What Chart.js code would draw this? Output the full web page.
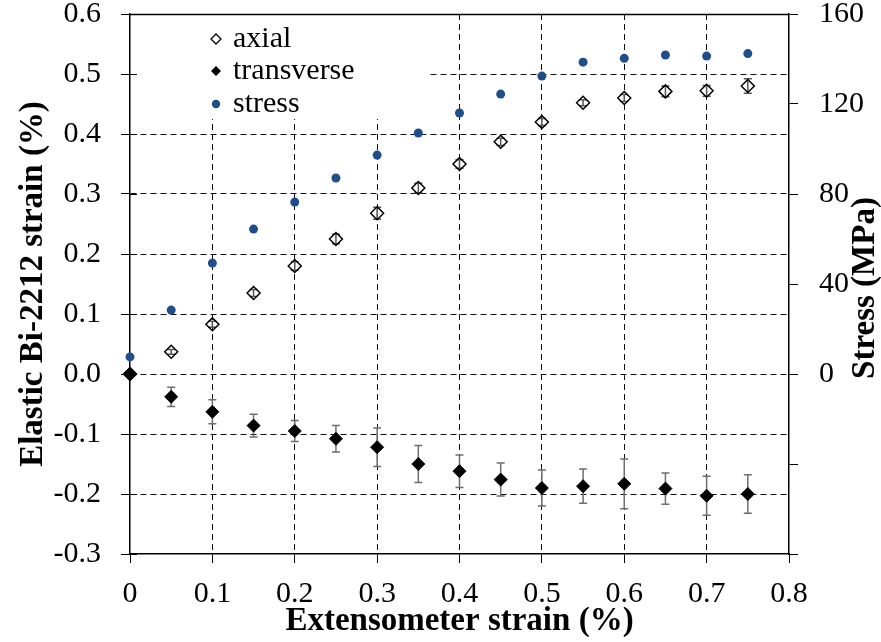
<!DOCTYPE html>
<html>
<head>
<meta charset="utf-8">
<script src="https://cdn.jsdelivr.net/npm/chart.js@4.4.0/dist/chart.umd.min.js"></script>
<style>
  html, body { margin: 0; padding: 0; background: #fff; }
  #wrap { width: 881px; height: 642px; }
</style>
</head>
<body>
<div id="wrap"><canvas id="chart" width="881" height="642"></canvas></div>
<script>
// extensometer strain (%) on the x axis
const strainX = [0, 0.05, 0.1, 0.15, 0.2, 0.25, 0.3, 0.35, 0.4, 0.45, 0.5, 0.55, 0.6, 0.65, 0.7, 0.75];
// elastic Bi-2212 strain (%)
const axial = [0, 0.037, 0.083, 0.135, 0.18, 0.225, 0.268, 0.31, 0.35, 0.387, 0.42, 0.452, 0.46, 0.471, 0.472, 0.48];
const axialErr = [0, 0.004, 0.005, 0.006, 0.007, 0.008, 0.01, 0.008, 0.007, 0.006, 0.006, 0.005, 0.006, 0.009, 0.009, 0.012];
const transverse = [0, -0.038, -0.063, -0.086, -0.095, -0.108, -0.122, -0.15, -0.162, -0.176, -0.19, -0.187, -0.183, -0.191, -0.203, -0.2];
const transverseErr = [0, 0.016, 0.02, 0.019, 0.0175, 0.022, 0.032, 0.031, 0.027, 0.0275, 0.03, 0.0285, 0.0415, 0.026, 0.0325, 0.032];
// stress (MPa), right axis
const stress = [7.6, 28.4, 49.3, 64.4, 76.4, 87.1, 97.3, 107.1, 116.0, 124.4, 132.4, 138.6, 140.3, 141.8, 141.3, 142.4];
const seriesNames = ['axial', 'transverse', 'stress'];

const FONT = 'Liberation Serif, Times New Roman, serif';
const BLUE = '#1f4e8a';
const near = (a, b) => Math.abs(a - b) < 1e-6;

function diamond(ctx, x, y, r) {
  ctx.beginPath();
  ctx.moveTo(x, y - r);
  ctx.lineTo(x + r, y);
  ctx.lineTo(x, y + r);
  ctx.lineTo(x - r, y);
  ctx.closePath();
}

function errorBars(chart, values, errs, color) {
  const { ctx, scales: { x, y } } = chart;
  ctx.save();
  ctx.strokeStyle = color;
  ctx.lineWidth = 1.5;
  strainX.forEach((sx, i) => {
    if (!errs[i]) return;
    const px = x.getPixelForValue(sx);
    const top = y.getPixelForValue(values[i] + errs[i]);
    const bot = y.getPixelForValue(values[i] - errs[i]);
    ctx.beginPath();
    ctx.moveTo(px, top); ctx.lineTo(px, bot);
    ctx.moveTo(px - 4, top); ctx.lineTo(px + 4, top);
    ctx.moveTo(px - 4, bot); ctx.lineTo(px + 4, bot);
    ctx.stroke();
  });
  ctx.restore();
}

const extras = {
  id: 'extras',
  beforeDatasetsDraw(chart) {
    const { ctx, chartArea: a, scales: { y } } = chart;
    ctx.save();
    // legend box hides the grid behind it
    ctx.fillStyle = '#fff';
    ctx.fillRect(a.left + 1, a.top + 1, 298, 104);
    // inner part of left tick marks
    ctx.strokeStyle = '#000';
    ctx.lineWidth = 1;
    y.ticks.forEach(t => {
      const py = Math.round(y.getPixelForValue(t.value)) + 0.5;
      ctx.beginPath();
      ctx.moveTo(a.left, py); ctx.lineTo(a.left + 7, py);
      ctx.stroke();
    });
    // legend entries
    const lx = 216, tx = 233;
    const rows = [39, 71, 104];
    ctx.lineWidth = 1.3;
    diamond(ctx, lx, rows[0], 5);
    ctx.stroke();
    diamond(ctx, lx, rows[1], 5);
    ctx.fillStyle = '#000';
    ctx.fill();
    ctx.beginPath();
    ctx.arc(lx, rows[2], 4.2, 0, Math.PI * 2);
    ctx.fillStyle = BLUE;
    ctx.fill();
    ctx.fillStyle = '#000';
    ctx.font = '30px ' + FONT;
    ctx.textBaseline = 'alphabetic';
    ctx.textAlign = 'left';
    seriesNames.forEach((n, i) => ctx.fillText(n, tx, rows[i] + 8));
    ctx.restore();

    errorBars(chart, transverse, transverseErr, '#6e6e6e');
    errorBars(chart, axial, axialErr, '#555');
  },
  afterDraw(chart) {
    const { ctx, chartArea: a } = chart;
    ctx.save();
    ctx.strokeStyle = '#000';
    ctx.lineWidth = 1.5;
    ctx.beginPath();
    ctx.moveTo(a.left, a.top + 0.5);
    ctx.lineTo(a.right, a.top + 0.5);
    ctx.stroke();
    // right axis title reads bottom to top
    ctx.translate(865, (a.top + a.bottom) / 2 + 4);
    ctx.rotate(-Math.PI / 2);
    ctx.font = 'bold 33px ' + FONT;
    ctx.fillStyle = '#000';
    ctx.textAlign = 'center';
    ctx.textBaseline = 'middle';
    ctx.fillText('Stress (MPa)', 0, 0);
    ctx.restore();
  }
};

const tickFont = { family: FONT, size: 30 };
const titleFont = { family: FONT, size: 33, weight: 'bold' };

function fixBox(w, h) {
  return s => {
    if (w) s.width = w;
    if (h) s.height = h;
    s.paddingTop = 0; s.paddingBottom = 0; s.paddingLeft = 0; s.paddingRight = 0;
  };
}

new Chart(document.getElementById('chart'), {
  type: 'scatter',
  data: {
    datasets: [
      {
        label: seriesNames[0],
        data: strainX.map((x, i) => ({ x, y: axial[i] })),
        pointStyle: 'rectRot', pointRadius: 6.5,
        backgroundColor: 'rgba(255,255,255,0)', borderColor: '#000', borderWidth: 1.5,
        clip: false
      },
      {
        label: seriesNames[1],
        data: strainX.map((x, i) => ({ x, y: transverse[i] })),
        pointStyle: 'rectRot', pointRadius: 6.5,
        backgroundColor: '#000', borderColor: '#000', borderWidth: 1,
        clip: false
      },
      {
        label: seriesNames[2],
        data: strainX.map((x, i) => ({ x, y: stress[i] })),
        yAxisID: 'y2',
        pointStyle: 'circle', pointRadius: 4.5,
        backgroundColor: BLUE, borderWidth: 0,
        clip: false
      }
    ]
  },
  options: {
    responsive: false,
    animation: false,
    devicePixelRatio: 1,
    layout: { padding: { top: 14 } },
    plugins: { legend: { display: false }, tooltip: { enabled: false } },
    scales: {
      x: {
        type: 'linear', min: 0, max: 0.8,
        ticks: {
          stepSize: 0.1, color: '#000', font: tickFont, padding: 13, maxRotation: 0,
          callback: v => near(v, 0) ? '0' : v.toFixed(1)
        },
        grid: {
          color: c => (near(c.tick.value, 0) || near(c.tick.value, 0.8)) ? 'rgba(0,0,0,0)' : '#111',
          tickColor: '#000', tickLength: 9, lineWidth: 1
        },
        border: { color: '#000', width: 1.5, dash: [6, 4] },
        title: { display: true, text: 'Extensometer strain (%)', color: '#000', font: titleFont, padding: { bottom: 1 } },
        afterFit: fixBox(0, 88)
      },
      y: {
        position: 'left', min: -0.3, max: 0.6,
        ticks: {
          stepSize: 0.1, color: '#000', font: tickFont, padding: 20,
          callback: v => (near(v, 0) ? 0 : v).toFixed(1)
        },
        grid: {
          color: c => (near(c.tick.value, 0.6) || near(c.tick.value, -0.3)) ? 'rgba(0,0,0,0)' : '#111',
          tickColor: '#000', tickLength: 9, lineWidth: 1
        },
        border: { color: '#000', width: 1.5, dash: [6, 4] },
        title: { display: true, text: 'Elastic Bi-2212 strain (%)', color: '#000', font: titleFont, padding: { top: 14 } },
        afterFit: fixBox(130, 0)
      },
      y2: {
        position: 'right', min: -80, max: 160,
        ticks: {
          stepSize: 40, color: '#000', font: tickFont, padding: 21,
          callback: v => v < 0 ? '' : String(v)
        },
        grid: { drawOnChartArea: false, tickColor: '#000', tickLength: 9, lineWidth: 1 },
        border: { color: '#000', width: 1.5 },
        afterFit: fixBox(92, 0)
      }
    }
  },
  plugins: [extras]
});
</script>
</body>
</html>
